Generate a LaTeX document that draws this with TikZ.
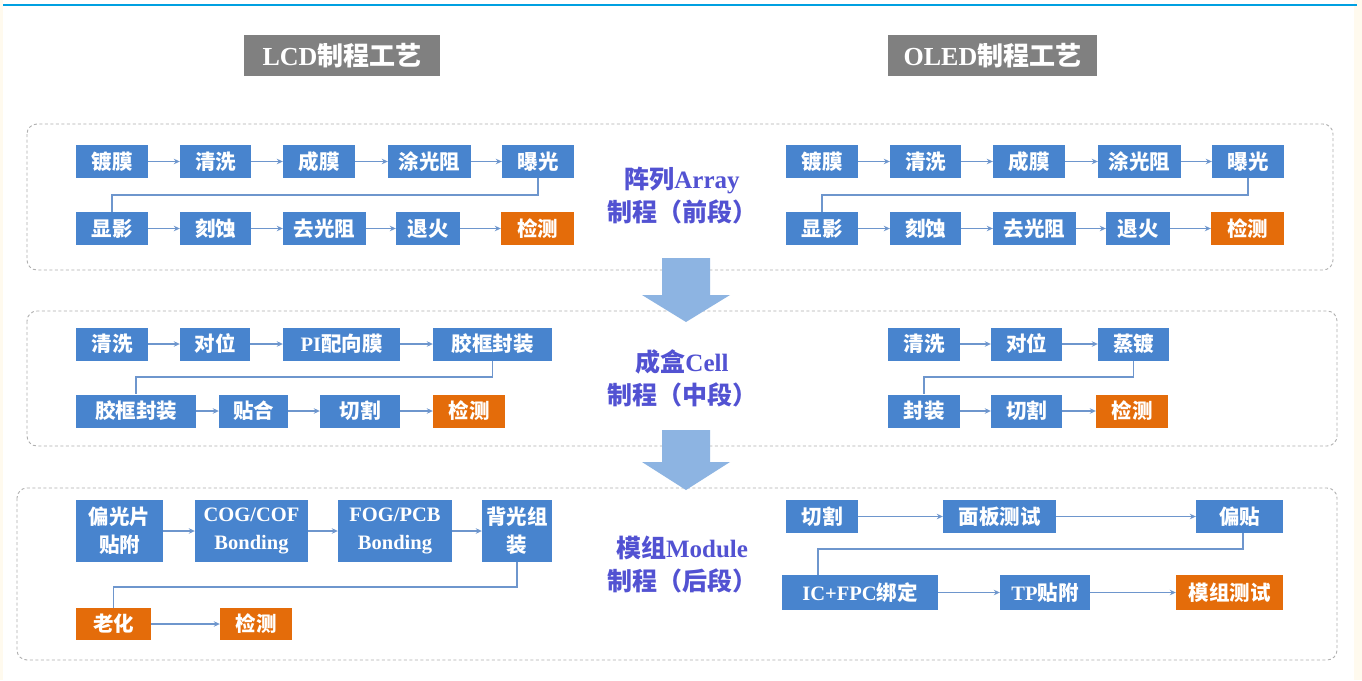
\documentclass[tikz,border=0pt]{standalone}
\usepackage{fontspec}
\setmainfont{Liberation Serif}
\newfontfamily\cjk{Noto Sans CJK SC}
\newcommand\zh[1]{{\cjk #1}}
\usetikzlibrary{arrows.meta}
\definecolor{boxblue}{RGB}{72,132,206}
\definecolor{boxorange}{RGB}{228,108,10}
\definecolor{lineblue}{RGB}{110,150,205}
\definecolor{labelblue}{RGB}{82,82,210}
\definecolor{headgray}{RGB}{128,128,128}
\definecolor{dashgray}{RGB}{175,175,175}
\definecolor{bigarrow}{RGB}{141,180,226}
\definecolor{cream}{RGB}{255,250,238}
\definecolor{topblue}{RGB}{0,160,225}
\tikzset{
  pbox/.style={fill=boxblue, text=white, inner sep=0pt, minimum height=33,
    font=\fontsize{20.5}{28}\selectfont\bfseries, align=center},
  obox/.style={pbox, fill=boxorange},
  arr/.style={draw=lineblue, line width=1.6pt, -{Stealth[length=6pt,width=5.5pt]}},
  conn/.style={draw=lineblue, line width=1.6pt},
  section/.style={draw=dashgray, line width=0.9pt, dash pattern=on 3pt off 2.5pt, rounded corners=10pt},
  header/.style={fill=headgray, text=white, inner sep=0pt, minimum height=41,
    font=\fontsize{26}{30}\selectfont\bfseries},
  stage/.style={text=labelblue, font=\fontsize{25}{33}\selectfont\bfseries, align=center},
  bigarr/.style={fill=bigarrow, draw=none}
}
\begin{document}
\begin{tikzpicture}[x=1pt,y=-1pt]
\useasboundingbox (0,0) rectangle (1362,680);
\fill[white] (0,0) rectangle (1362,680);
\fill[cream] (0,0) rectangle (3,680);
\fill[cream] (1354,0) rectangle (1362,680);
\draw[topblue, line width=2.5pt] (3,5) -- (1357,5);

% headers
\node[header, minimum width=196] (hl) at (342,55.5) {LCD\zh{制程工艺}};
\node[header, minimum width=209] (hr) at (992.5,55.5) {OLED\zh{制程工艺}};

% section frames
\draw[section] (27,124) rectangle (1333,270);
\draw[section] (27,311) rectangle (1337,446);
\draw[section] (17,488) rectangle (1337,660);

% big arrows
\fill[bigarr] (662,258) -- (710,258) -- (710,295) -- (730,295) -- (686,322) -- (642,295) -- (662,295) -- cycle;
\fill[bigarr] (662,430) -- (710,430) -- (710,462) -- (730,462) -- (686,490) -- (642,462) -- (662,462) -- cycle;

% stage labels
\node[stage] (s1) at (682,196) {\zh{阵列}Array\\\zh{制程（前段）}};
\node[stage] (s2) at (682,378.5) {\zh{成盒}Cell\\\zh{制程（中段）}};
\node[stage] (s3) at (682,564.5) {\zh{模组}Module\\\zh{制程（后段）}};

% ===== Section 1 left =====
\node[pbox, minimum width=72] (a1) at (112,161.5) {\zh{镀膜}};
\node[pbox, minimum width=71] (a2) at (215.5,161.5) {\zh{清洗}};
\node[pbox, minimum width=72] (a3) at (319,161.5) {\zh{成膜}};
\node[pbox, minimum width=83] (a4) at (429.5,161.5) {\zh{涂光阻}};
\node[pbox, minimum width=72] (a5) at (538,161.5) {\zh{曝光}};
\node[pbox, minimum width=72] (a6) at (112,228.5) {\zh{显影}};
\node[pbox, minimum width=71] (a7) at (215.5,228.5) {\zh{刻蚀}};
\node[pbox, minimum width=83] (a8) at (324.5,228.5) {\zh{去光阻}};
\node[pbox, minimum width=64] (a9) at (428,228.5) {\zh{退火}};
\node[obox, minimum width=73] (a10) at (537.5,228.5) {\zh{检测}};
\draw[arr] (a1) -- (a2); \draw[arr] (a2) -- (a3); \draw[arr] (a3) -- (a4); \draw[arr] (a4) -- (a5);
\draw[conn] (a5.south) -- ++(0,17) -| (a6.north);
\draw[arr] (a6) -- (a7); \draw[arr] (a7) -- (a8); \draw[arr] (a8) -- (a9); \draw[arr] (a9) -- (a10);

% ===== Section 1 right =====
\node[pbox, minimum width=72] (b1) at (822,161.5) {\zh{镀膜}};
\node[pbox, minimum width=71] (b2) at (925.5,161.5) {\zh{清洗}};
\node[pbox, minimum width=72] (b3) at (1029,161.5) {\zh{成膜}};
\node[pbox, minimum width=83] (b4) at (1139.5,161.5) {\zh{涂光阻}};
\node[pbox, minimum width=72] (b5) at (1248,161.5) {\zh{曝光}};
\node[pbox, minimum width=72] (b6) at (822,228.5) {\zh{显影}};
\node[pbox, minimum width=71] (b7) at (925.5,228.5) {\zh{刻蚀}};
\node[pbox, minimum width=83] (b8) at (1034.5,228.5) {\zh{去光阻}};
\node[pbox, minimum width=64] (b9) at (1138,228.5) {\zh{退火}};
\node[obox, minimum width=73] (b10) at (1247.5,228.5) {\zh{检测}};
\draw[arr] (b1) -- (b2); \draw[arr] (b2) -- (b3); \draw[arr] (b3) -- (b4); \draw[arr] (b4) -- (b5);
\draw[conn] (b5.south) -- ++(0,17) -| (b6.north);
\draw[arr] (b6) -- (b7); \draw[arr] (b7) -- (b8); \draw[arr] (b8) -- (b9); \draw[arr] (b9) -- (b10);

% ===== Section 2 left =====
\node[pbox, minimum width=72] (c1) at (112,344) {\zh{清洗}};
\node[pbox, minimum width=70] (c2) at (215,344) {\zh{对位}};
\node[pbox, minimum width=117] (c3) at (341.5,344) {PI\zh{配向膜}};
\node[pbox, minimum width=119] (c4) at (492.5,344) {\zh{胶框封装}};
\node[pbox, minimum width=120] (c5) at (136,411) {\zh{胶框封装}};
\node[pbox, minimum width=69] (c6) at (253.5,411) {\zh{贴合}};
\node[pbox, minimum width=80] (c7) at (360,411) {\zh{切割}};
\node[obox, minimum width=72] (c8) at (469,411) {\zh{检测}};
\draw[arr] (c1) -- (c2); \draw[arr] (c2) -- (c3); \draw[arr] (c3) -- (c4);
\draw[conn] (c4.south) -- ++(0,16) -| (c5.north);
\draw[arr] (c5) -- (c6); \draw[arr] (c6) -- (c7); \draw[arr] (c7) -- (c8);

% ===== Section 2 right =====
\node[pbox, minimum width=72] (d1) at (924,344) {\zh{清洗}};
\node[pbox, minimum width=71] (d2) at (1026.5,344) {\zh{对位}};
\node[pbox, minimum width=71] (d3) at (1133.5,344) {\zh{蒸镀}};
\node[pbox, minimum width=72] (d4) at (924,411) {\zh{封装}};
\node[pbox, minimum width=71] (d5) at (1026.5,411) {\zh{切割}};
\node[obox, minimum width=72] (d6) at (1132,411) {\zh{检测}};
\draw[arr] (d1) -- (d2); \draw[arr] (d2) -- (d3);
\draw[conn] (d3.south) -- ++(0,16) -| (d4.north);
\draw[arr] (d4) -- (d5); \draw[arr] (d5) -- (d6);

% ===== Section 3 left =====
\node[pbox, minimum width=87, minimum height=62] (e1) at (119.5,531) {\zh{偏光片}\\\zh{贴附}};
\node[pbox, minimum width=113, minimum height=62] (e2) at (251.5,531) {COG/COF\\Bonding};
\node[pbox, minimum width=114, minimum height=62] (e3) at (395,531) {FOG/PCB\\Bonding};
\node[pbox, minimum width=70, minimum height=62] (e4) at (517,531) {\zh{背光组}\\\zh{装}};
\node[obox, minimum width=75, minimum height=32] (e5) at (113.5,624) {\zh{老化}};
\node[obox, minimum width=72, minimum height=32] (e6) at (256,624) {\zh{检测}};
\draw[arr] (e1) -- (e2); \draw[arr] (e2) -- (e3); \draw[arr] (e3) -- (e4);
\draw[conn] (e4.south) -- ++(0,25) -| (e5.north);
\draw[arr] (e5) -- (e6);

% ===== Section 3 right =====
\node[pbox, minimum width=72] (f1) at (822,516.5) {\zh{切割}};
\node[pbox, minimum width=113] (f2) at (999.5,516.5) {\zh{面板测试}};
\node[pbox, minimum width=87] (f3) at (1239.5,516.5) {\zh{偏贴}};
\node[pbox, minimum width=156, minimum height=35] (f4) at (860,592.5) {IC+FPC\zh{绑定}};
\node[pbox, minimum width=90, minimum height=35] (f5) at (1045,592.5) {TP\zh{贴附}};
\node[obox, minimum width=107, minimum height=35] (f6) at (1229.5,592.5) {\zh{模组测试}};
\draw[arr] (f1) -- (f2); \draw[arr] (f2) -- (f3);
\draw[conn] ([xshift=3.5pt]f3.south) -- ++(0,16) -| ([xshift=-42pt]f4.north);
\draw[arr] (f4) -- (f5); \draw[arr] (f5) -- (f6);
\end{tikzpicture}
\end{document}
